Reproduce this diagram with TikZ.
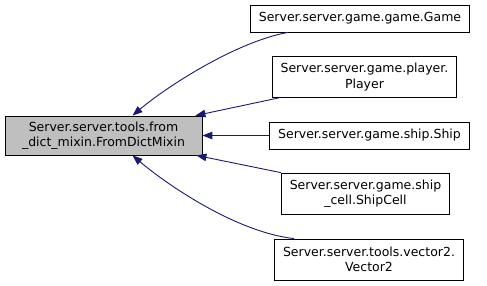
\documentclass[tikz,border=0pt]{standalone}
\usepackage{fontspec}
\setmainfont{DejaVu Sans}
\usetikzlibrary{arrows.meta}
\usetikzlibrary{positioning}
\usetikzlibrary{calc}
\definecolor{edgeblue}{HTML}{191970}
\definecolor{basegray}{HTML}{BFBFBF}

\begin{document}
\begin{tikzpicture}[x=1pt, y=-1pt,
    font=\fontsize{12.5}{15.5}\selectfont,
    cls/.style={draw=black, line width=0.8pt, inner xsep=8.5pt, inner ysep=0pt,
        align=center, minimum height=#1},
    cls/.default=27pt,
    base/.style={cls=39pt, fill=basegray, minimum width=197pt},
    inh/.style={edgeblue, line width=0.9pt,
        -{Triangle[length=10pt,width=7.5pt]}}]

\useasboundingbox (0,0) rectangle (487,286);

% base class
\node[base] (mixin) at (103.5,135.5)
    {Server.server.tools.from\\\_dict\_mixin.FromDictMixin};

% derived classes
\node[cls] (game) at (360,18.5) {Server.server.game.game.Game};
\node[cls=41pt] (player) at (364.5,77) {Server.server.game.player.\\Player};
\node[cls] (ship) at (369.5,135.5) {Server.server.game.ship.Ship};
\node[cls=41pt] (shipcell) at (365.5,193.5) {Server.server.game.ship\\\_cell.ShipCell};
\node[cls=41pt] (vector) at (369,259.5) {Server.server.tools.vector2.\\Vector2};

% inheritance edges
\draw[inh] ($(game.south west)+(38,0)$) .. controls (235,42) and (165,88)
    .. ($(mixin.north)+(29,0)$);
\draw[inh] ($(player.south west)+(7,0)$) -- ($(mixin.north east)+(-7,0)$);
\draw[inh] (ship.west) -- (mixin.east);
\draw[inh] (shipcell.north west) -- ($(mixin.south east)+(-6,0)$);
\draw[inh] ($(vector.north west)+(20,0)$) .. controls (235,232) and (165,183)
    .. ($(mixin.south)+(29,0)$);

\end{tikzpicture}
\end{document}
